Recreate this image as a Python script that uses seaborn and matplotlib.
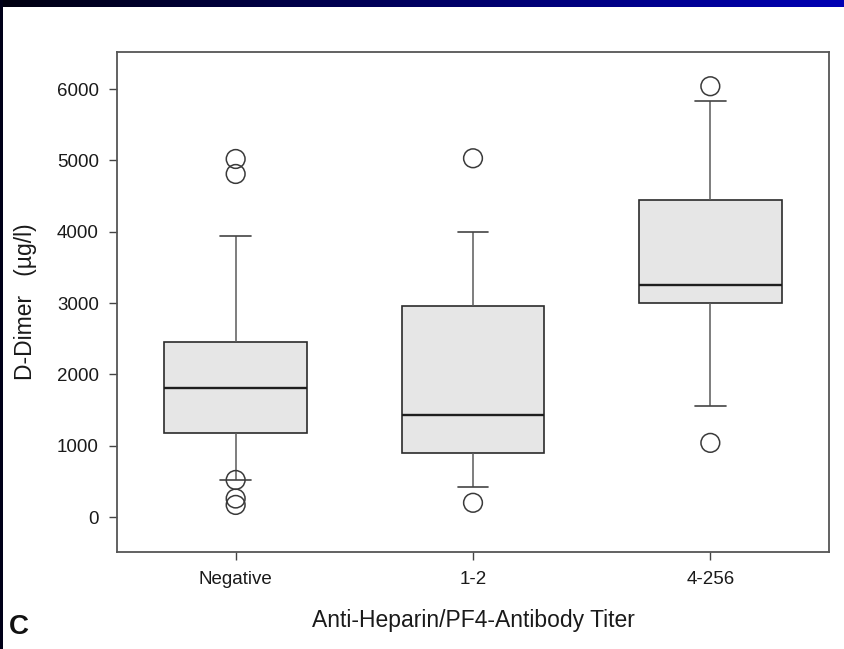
import numpy as np
import pandas as pd
import seaborn as sns
import matplotlib
matplotlib.use("Agg")
import matplotlib.pyplot as plt
from matplotlib.colors import LinearSegmentedColormap
from matplotlib.patches import Rectangle

# values (D-Dimer, ug/l)
groups = ["Negative", "1-2", "4-256"]
whisker_low = [520, 420, 1560]
q1 = [1180, 900, 3000]
median = [1810, 1430, 3250]
q3 = [2450, 2960, 4440]
whisker_high = [3940, 4000, 5830]

outlier_groups = ["Negative", "Negative", "Negative", "Negative", "Negative",
                  "1-2", "1-2", "4-256", "4-256"]
outlier_values = [5020, 4810, 520, 260, 170, 5030, 200, 6040, 1040]

# five points per group -> box quartiles come out exactly, whiskers to min/max
rows = []
for i, g in enumerate(groups):
    for v in (whisker_low[i], q1[i], median[i], q3[i], whisker_high[i]):
        rows.append({"titer": g, "ddimer": v})
df = pd.DataFrame(rows)
out = pd.DataFrame({"titer": outlier_groups, "ddimer": outlier_values})

sns.set_theme(style="ticks")
plt.rcParams["font.family"] = ["Liberation Sans", "DejaVu Sans"]

fig = plt.figure(figsize=(8.45, 6.49), dpi=100)
ax = fig.add_axes([117 / 845, 97 / 649, 712 / 845, 500 / 649])

sns.boxplot(data=df, x="titer", y="ddimer", order=groups, ax=ax,
            whis=(0, 100), showfliers=False, width=0.6,
            color="#e6e6e6", linecolor="#2b2b2b", linewidth=1.2,
            medianprops=dict(color="#1e1e1e", linewidth=1.7),
            whiskerprops=dict(color="#5a5a5a", linewidth=1.1),
            capprops=dict(color="#444444", linewidth=1.2),
            capwidths=0.13)

n_before = len(ax.collections)
sns.stripplot(data=out, x="titer", y="ddimer", order=groups, ax=ax,
              jitter=False, size=13.5, color="#3a3a3a",
              edgecolor="#3a3a3a", linewidth=1.1)
for coll in ax.collections[n_before:]:
    coll.set_facecolor("none")
    coll.set_edgecolor("#3a3a3a")
    coll.set_linewidth(1.1)
    coll.set_clip_on(False)

ax.set_xlim(-0.5, 2.5)
ax.set_ylim(-490, 6520)
ax.set_yticks([0, 1000, 2000, 3000, 4000, 5000, 6000])
ax.tick_params(axis="both", direction="out", length=6, width=1.0,
               color="#444444", labelsize=13.5, labelcolor="#1a1a1a")
ax.tick_params(axis="y", pad=7)
ax.tick_params(axis="x", pad=8)

for side in ["left", "right", "top", "bottom"]:
    ax.spines[side].set_visible(True)
    ax.spines[side].set_color("#555555")
    ax.spines[side].set_linewidth(1.3)

ax.set_xlabel("Anti-Heparin/PF4-Antibody Titer", fontsize=16.5, color="#1a1a1a")
ax.xaxis.set_label_coords(0.5, -0.115)
ax.xaxis.label.set_va("top")
ax.set_ylabel("D-Dimer   (\u00b5g/l)", fontsize=16.5, color="#1a1a1a")
ax.yaxis.set_label_coords(-0.113, 0.5)

fig.text(9 / 845, 1 - 634 / 649, "C", fontsize=20, fontweight="bold",
         ha="left", va="baseline", color="#111111")

# dark blue slide frame
bar = fig.add_axes([0, 1 - 7 / 649, 1, 7 / 649])
cmap = LinearSegmentedColormap.from_list("frame", ["#000010", "#0000b4"])
bar.imshow(np.linspace(0, 1, 256).reshape(1, -1), aspect="auto", cmap=cmap)
bar.set_axis_off()
fig.patches.append(Rectangle((0, 0), 3 / 845, 1, transform=fig.transFigure,
                             facecolor="#000018", edgecolor="none"))

fig.savefig("out.png", dpi=100)
